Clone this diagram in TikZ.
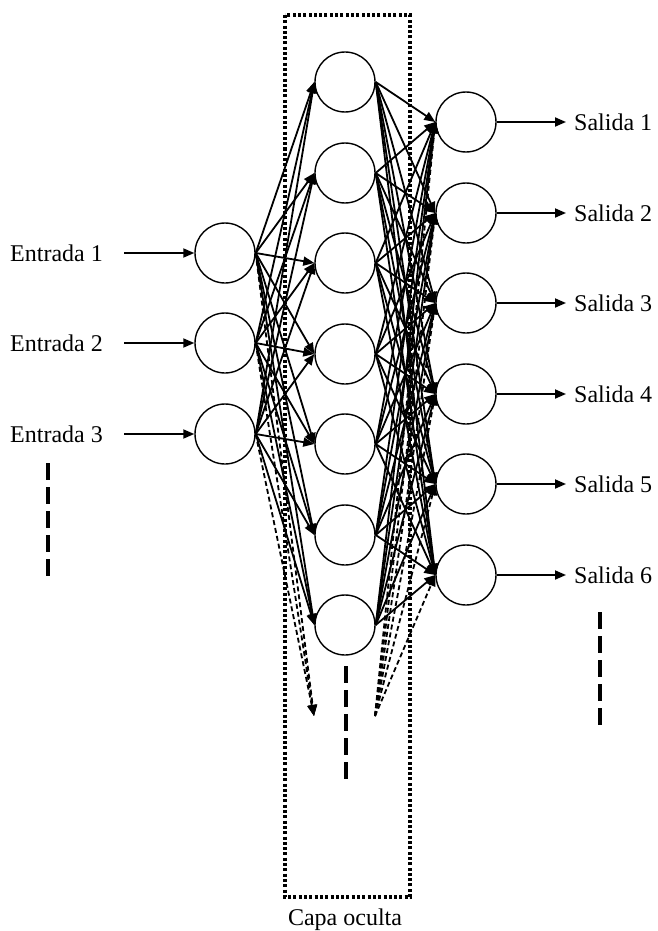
\documentclass[tikz,border=0pt]{standalone}
\usepackage{fontspec}
\setmainfont{Liberation Serif}
\usetikzlibrary{arrows.meta}
\begin{document}
\begin{tikzpicture}[x=1pt,y=-1pt,
  neuron/.style={draw,circle,minimum size=60pt,inner sep=0pt,line width=1.4pt,fill=white},
  lbl/.style={inner sep=0pt,font=\fontsize{24}{28}\selectfont},
  arr/.style={line width=1.8pt,-{Triangle[length=11pt,width=9pt]}},
  darr/.style={line width=1.8pt,dash pattern=on 5pt off 3pt,-{Triangle[length=11pt,width=9pt]}},
  bigdash/.style={line width=3.2pt,dash pattern=on 17pt off 7pt},
  dotbox/.style={line width=3.5pt,dash pattern=on 3pt off 2.3pt}]
\useasboundingbox (0,0) rectangle (657,931);

% dotted hidden layer box
\draw[dotbox] (285,15) rectangle (410,897);
\node[lbl] (capa) at (345,920) {Capa oculta};

% input nodes
\foreach \i/\y in {1/253,2/343,3/434}{
  \node[neuron] (i\i) at (225,\y) {};
  \node[lbl,anchor=west] (e\i) at (10,\y) {Entrada \i};
}
% hidden nodes
\foreach \j/\y in {1/82,2/173,3/263,4/354,5/444,6/535,7/625}{
  \node[neuron] (h\j) at (345,\y) {};
}
% output nodes
\foreach \k/\y in {1/122,2/213,3/303,4/394,5/484,6/575}{
  \node[neuron] (o\k) at (466,\y) {};
  \node[lbl,anchor=west] (s\k) at (574,\y) {Salida \k};
}

\coordinate (din) at (314,716);
\coordinate (dout) at (375,716);

% connections input -> hidden
\foreach \i in {1,2,3}{
  \draw[arr] (e\i.east) ++(21,0) -- (i\i.west);
  \foreach \j in {1,...,7}{
    \draw[arr] (i\i.east) -- (h\j.west);
  }
  \draw[darr] (i\i.east) -- (din);
}
% hidden -> output
\foreach \j in {1,...,7}{
  \foreach \k in {1,...,6}{
    \draw[arr] (h\j.east) -- (o\k.west);
  }
}
\foreach \k in {1,...,6}{
  \draw[darr] (dout) -- (o\k.west);
  \draw[arr,shorten >=8pt] (o\k.east) -- (s\k.west);
}

% continuation dashes
\coordinate (l1) at (48,463); \coordinate (l2) at (48,578);
\coordinate (m1) at (346,666); \coordinate (m2) at (346,780);
\coordinate (r1) at (600,612); \coordinate (r2) at (600,728);
\draw[bigdash] (l1) -- (l2);
\draw[bigdash] (m1) -- (m2);
\draw[bigdash] (r1) -- (r2);
\end{tikzpicture}
\end{document}
